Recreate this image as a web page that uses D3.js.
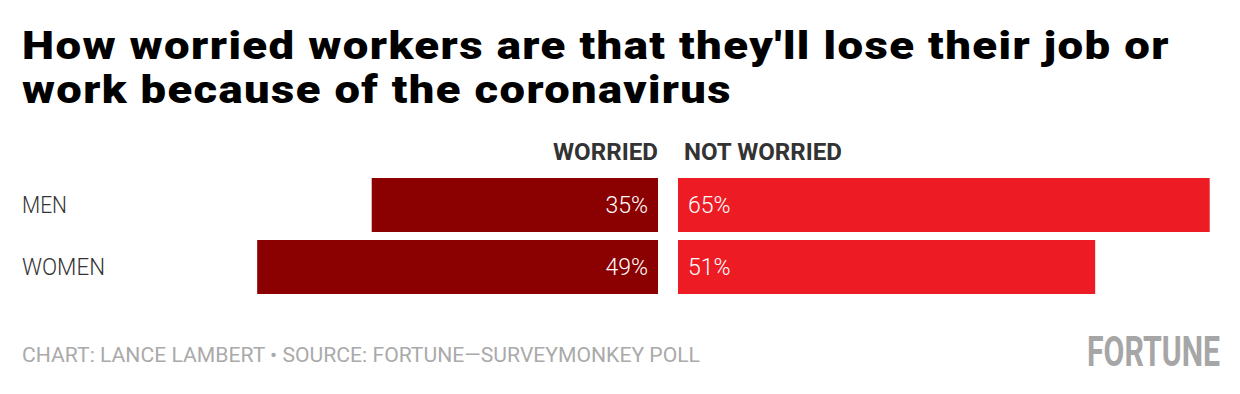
<!DOCTYPE html>
<html><head><meta charset="utf-8">
<script src="https://cdn.jsdelivr.net/npm/d3@7"></script>
<style>body{margin:0;background:#fff}svg{display:block}</style>
</head><body>
<svg id="c" width="1240" height="394"></svg>
<script>
const categories = ["MEN", "WOMEN"];
const worried = [35, 49];
const notWorried = [65, 51];
const seriesLabels = ["WORRIED", "NOT WORRIED"];
const titleLines = ["How worried workers are that they'll lose their job or", "work because of the coronavirus"];
const footerText = "CHART: LANCE LAMBERT \u2022 SOURCE: FORTUNE\u2014SURVEYMONKEY POLL";

const svg = d3.select("#c");

// title
const titleTargets = [1148, 710];
titleLines.forEach((t, i) => {
  svg.append("text").attr("x", 22).attr("y", 59 + i * 44)
    .attr("font-family", "Roboto").attr("font-weight", 900).attr("font-size", 39)
    .attr("letter-spacing", 1.2)
    .attr("fill", "#000").attr("textLength", titleTargets[i]).attr("lengthAdjust", "spacingAndGlyphs")
    .text(t);
});

const center = 668, gap = 10;
const x = d3.scaleLinear().domain([0, 100]).range([0, 818]);
const y = d3.scaleBand().domain(categories).range([178, 294]).paddingInner(8 / 62).paddingOuter(0);

// headers
svg.append("text").attr("x", center - gap - 105).attr("y", 160)
  .attr("font-family", "Roboto").attr("font-weight", 700).attr("font-size", 23).attr("fill", "#333")
  .attr("textLength", 105).attr("lengthAdjust", "spacingAndGlyphs").text(seriesLabels[0]);
svg.append("text").attr("x", center + 16).attr("y", 160)
  .attr("font-family", "Roboto").attr("font-weight", 700).attr("font-size", 23).attr("fill", "#333")
  .attr("textLength", 158).attr("lengthAdjust", "spacingAndGlyphs").text(seriesLabels[1]);

const rows = svg.selectAll("g.row").data(categories).join("g").attr("class", "row");

rows.append("text").attr("x", 22).attr("y", d => y(d) + y.bandwidth() / 2 + 8)
  .attr("font-family", "Roboto").attr("font-weight", 300).attr("font-size", 23).attr("fill", "#333")
  .attr("textLength", d => d === "MEN" ? 45 : 83).attr("lengthAdjust", "spacingAndGlyphs")
  .text(d => d);

rows.append("rect")
  .attr("x", (d, i) => center - gap - x(worried[i])).attr("y", d => y(d))
  .attr("width", (d, i) => x(worried[i])).attr("height", y.bandwidth()).attr("fill", "#8b0000");
rows.append("rect")
  .attr("x", center + gap).attr("y", d => y(d))
  .attr("width", (d, i) => x(notWorried[i])).attr("height", y.bandwidth()).attr("fill", "#ed1c24");

rows.append("text").attr("x", center - gap - 10).attr("y", d => y(d) + y.bandwidth() / 2 + 8)
  .attr("text-anchor", "end").attr("font-family", "Roboto").attr("font-weight", 300)
  .attr("font-size", 23).attr("fill", "#fff").text((d, i) => worried[i] + "%");
rows.append("text").attr("x", center + gap + 10).attr("y", d => y(d) + y.bandwidth() / 2 + 8)
  .attr("font-family", "Roboto").attr("font-weight", 300)
  .attr("font-size", 23).attr("fill", "#fff").text((d, i) => notWorried[i] + "%");

// footer
svg.append("text").attr("x", 22).attr("y", 362)
  .attr("font-family", "Roboto").attr("font-weight", 400).attr("font-size", 21).attr("fill", "#aaa")
  .attr("textLength", 678).attr("lengthAdjust", "spacingAndGlyphs").text(footerText);
svg.append("text").attr("transform", "translate(1087,366) scale(1,1.24)")
  .attr("font-family", "Roboto").attr("font-weight", 700).attr("font-size", 34).attr("fill", "#a6a6a6")
  .attr("textLength", 133).attr("lengthAdjust", "spacingAndGlyphs").text("FORTUNE");
</script>
</body></html>
